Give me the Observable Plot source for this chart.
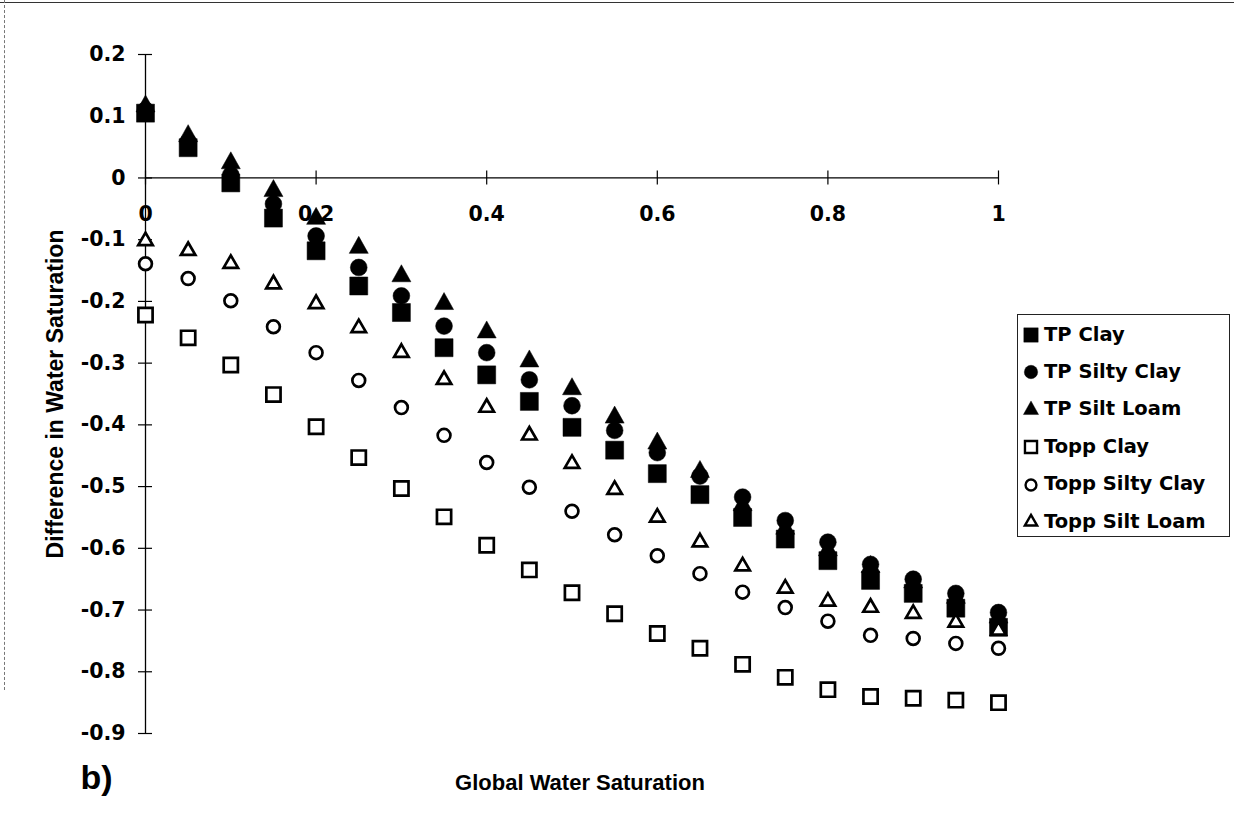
<!DOCTYPE html>
<html><head><meta charset="utf-8">
<script src="https://cdn.jsdelivr.net/npm/d3@7"></script>
<script src="https://cdn.jsdelivr.net/npm/@observablehq/plot@0.6"></script>
<style>
body{margin:0;background:#fff;}
#wrap{position:relative;width:1234px;height:819px;overflow:hidden;background:#fff;}
#topline{position:absolute;left:0;top:2px;width:1234px;height:0;border-top:1px solid #333;}
#leftline{position:absolute;left:4px;top:0;width:0;height:690px;border-left:1px dashed #777;}
#legend{position:absolute;left:1017px;top:314px;width:213px;height:223px;border:1px solid #222;box-sizing:border-box;background:#fff;
  font-family:"DejaVu Sans",sans-serif;font-weight:bold;font-size:19.5px;color:#000;}
.item{position:absolute;left:3px;display:flex;align-items:center;white-space:nowrap;}
.item svg{margin-right:3px;}
</style></head><body>
<div id="wrap"><div id="topline"></div><div id="leftline"></div><div id="legend"></div></div>
<script>
// ---- data ----
const xs = [0,0.05,0.1,0.15,0.2,0.25,0.3,0.35,0.4,0.45,0.5,0.55,0.6,0.65,0.7,0.75,0.8,0.85,0.9,0.95,1];
const tpClay      = [0.105,0.049,-0.008,-0.065,-0.118,-0.175,-0.218,-0.275,-0.319,-0.362,-0.404,-0.441,-0.479,-0.513,-0.550,-0.585,-0.620,-0.652,-0.673,-0.697,-0.728];
const tpSiltyClay = [0.110,0.058,0.005,-0.042,-0.094,-0.145,-0.191,-0.240,-0.283,-0.327,-0.369,-0.409,-0.445,-0.483,-0.517,-0.555,-0.590,-0.626,-0.650,-0.673,-0.704];
const tpSiltLoam  = [0.116,0.068,0.024,-0.021,-0.066,-0.113,-0.159,-0.204,-0.250,-0.297,-0.342,-0.388,-0.430,-0.476,-0.530,-0.568,-0.603,-0.630,-0.655,-0.680,-0.712];
const toppClay      = [-0.222,-0.259,-0.303,-0.351,-0.403,-0.453,-0.503,-0.549,-0.595,-0.635,-0.672,-0.706,-0.738,-0.762,-0.788,-0.809,-0.829,-0.840,-0.843,-0.846,-0.850];
const toppSiltyClay = [-0.139,-0.163,-0.199,-0.241,-0.283,-0.328,-0.372,-0.417,-0.461,-0.501,-0.540,-0.578,-0.612,-0.641,-0.671,-0.696,-0.718,-0.741,-0.746,-0.754,-0.762];
const toppSiltLoam  = [-0.102,-0.118,-0.139,-0.172,-0.204,-0.243,-0.283,-0.327,-0.372,-0.417,-0.463,-0.505,-0.550,-0.590,-0.629,-0.665,-0.686,-0.696,-0.706,-0.720,-0.733];
const seriesNames = ["TP Clay","TP Silty Clay","TP Silt Loam","Topp Clay","Topp Silty Clay","Topp Silt Loam"];
const xTicks = [0,0.2,0.4,0.6,0.8,1];
const yTicks = [0.2,0.1,0,-0.1,-0.2,-0.3,-0.4,-0.5,-0.6,-0.7,-0.8,-0.9];
const xTitle = "Global Water Saturation";
const yTitle = "Difference in Water Saturation";
const panelLabel = "b)";

// ---- symbols ----
const sq = h => ({draw(c){c.moveTo(-h,-h);c.lineTo(h,-h);c.lineTo(h,h);c.lineTo(-h,h);c.closePath();}});
const ci = r => ({draw(c){c.moveTo(r,0);c.arc(0,0,r,0,2*Math.PI);c.closePath();}});
const tri = (w,h) => ({draw(c){c.moveTo(0,-h*2/3);c.lineTo(w/2,h/3);c.lineTo(-w/2,h/3);c.closePath();}});

const series = [
  {name: seriesNames[0], vals: tpClay,        sym: sq(9),         filled: true},
  {name: seriesNames[1], vals: tpSiltyClay,   sym: ci(8.4),       filled: true},
  {name: seriesNames[2], vals: tpSiltLoam,    sym: tri(19,17),    filled: true},
  {name: seriesNames[3], vals: toppClay,      sym: sq(7.1),       filled: false},
  {name: seriesNames[4], vals: toppSiltyClay, sym: ci(6.4),       filled: false},
  {name: seriesNames[5], vals: toppSiltLoam,  sym: tri(14.5,12.5),filled: false}
];
const rows = s => xs.map((x,i) => ({x, y: s.vals[i], series: s.name}));
const drawOrder = [2,1,0,3,4,5];

const FONT = "DejaVu Sans, sans-serif";
const TITLEFONT = "Liberation Sans, Arial, sans-serif";

const dotMarks = drawOrder.map(k => {
  const s = series[k];
  return Plot.dot(rows(s), {x: "x", y: "y", symbol: s.sym, r: 5,
    fill: s.filled ? "black" : "white", stroke: "black",
    strokeWidth: s.filled ? 0.5 : 2.7, strokeLinejoin: "miter"});
});

const chart = Plot.plot({
  width: 1234, height: 819,
  marginLeft: 145, marginRight: 236, marginTop: 54, marginBottom: 86,
  x: {domain: [0,1], axis: null},
  y: {domain: [-0.9,0.2], axis: null},
  style: {fontFamily: FONT, background: "transparent", color: "black", overflow: "visible"},
  marks: [
    Plot.ruleX([0], {y1: -0.9, y2: 0.2, stroke: "black", strokeWidth: 1.3}),
    Plot.ruleY([0], {x1: 0, x2: 1, stroke: "black", strokeWidth: 1.3}),
    Plot.ruleY(yTicks, {x1: 0, x2: 0, insetLeft: -7, insetRight: -7, stroke: "black", strokeWidth: 1.2}),
    Plot.ruleX(xTicks, {y1: 0, y2: 0, insetTop: -7, insetBottom: -7, stroke: "black", strokeWidth: 1.2}),
    Plot.text(yTicks, {x: 0, y: d => d, text: d => d === 0 ? "0" : d.toFixed(1), textAnchor: "end", dx: -20,
      fontSize: 20.5, fontWeight: "bold"}),
    Plot.text(xTicks, {x: d => d, y: 0, text: d => (d === 0 || d === 1) ? String(d) : d.toFixed(1), dy: 36,
      fontSize: 20.5, fontWeight: "bold"}),
    ...dotMarks,
    Plot.text([yTitle], {frameAnchor: "left", dx: -90, rotate: -90, textAnchor: "middle", lineAnchor: "middle",
      text: d => d, fontSize: 23, fontWeight: "bold", fontFamily: TITLEFONT}),
    Plot.text([xTitle], {frameAnchor: "bottom", dx: 8, dy: 49, textAnchor: "middle", lineAnchor: "middle",
      text: d => d, fontSize: 22, fontWeight: "bold", fontFamily: TITLEFONT}),
    Plot.text([panelLabel], {frameAnchor: "bottom-left", dx: -65, dy: 45, textAnchor: "start", lineAnchor: "middle",
      text: d => d, fontSize: 34, fontWeight: "bold", fontFamily: TITLEFONT})
  ]
});
chart.style.position = "absolute";
chart.style.left = "0px";
chart.style.top = "0px";
document.getElementById("wrap").appendChild(chart);
document.getElementById("legend").style.zIndex = 2;

// ---- legend ----
const legend = document.getElementById("legend");
series.forEach((s, i) => {
  const item = document.createElement("div");
  item.className = "item";
  item.style.top = (4 + i * 37.4) + "px";
  item.style.height = "30px";
  const svg = d3.create("svg").attr("width", 20).attr("height", 20);
  const sc = s.filled ? 0.8 : 0.85;
  svg.append("path")
    .attr("transform", `translate(10,11) scale(${sc})`)
    .attr("d", d3.symbol(s.sym)())
    .attr("fill", s.filled ? "black" : "white")
    .attr("stroke", "black")
    .attr("stroke-width", s.filled ? 0.5 : 2.8);
  item.appendChild(svg.node());
  const t = document.createElement("span");
  t.textContent = s.name;
  item.appendChild(t);
  legend.appendChild(item);
});
</script>
</body></html>
